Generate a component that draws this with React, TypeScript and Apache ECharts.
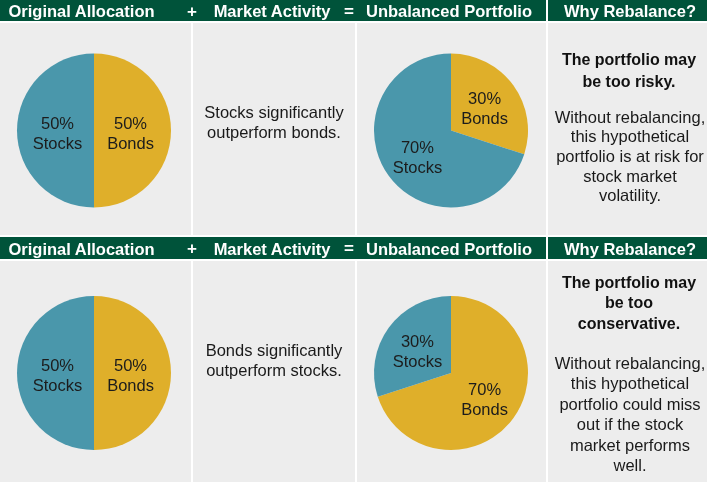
import React, { useEffect, useRef } from "react";
import * as echarts from "echarts";

// ---- data ----
const headerTitles = ["Original Allocation", "Market Activity", "Unbalanced Portfolio", "Why Rebalance?"];
const headerOperators = ["+", "="];
const assetNames = ["Bonds", "Stocks"];
const originalAllocation = [50, 50];
const unbalancedRow1 = [30, 70];
const unbalancedRow2 = [70, 30];
const marketActivity = ["Stocks significantly\noutperform bonds.", "Bonds significantly\noutperform stocks."];
const verdicts = ["The portfolio may\nbe too risky.", "The portfolio may\nbe too\nconservative."];
const explanations = [
  "Without rebalancing,\nthis hypothetical\nportfolio is at risk for\nstock market\nvolatility.",
  "Without rebalancing,\nthis hypothetical\nportfolio could miss\nout if the stock\nmarket performs\nwell.",
];

// ---- styling ----
const GREEN = "#00533A";
const GRAY = "#EDEDED";
const TEAL = "#4A97AB";
const GOLD = "#DFAF2A";
const FONT = '"Liberation Sans", Arial, Helvetica, sans-serif';

const cols = [
  [0, 191],
  [193, 355],
  [357, 546],
  [548, 707],
];
const rows = [
  { hy: 0, hh: 21, by: 23, bh: 212, pieY: 130.5, midY: 122, boldY: 70.5, boldLH: 22.5, expY: 156, expLH: 19.6 },
  { hy: 237, hh: 22, by: 261, bh: 221, pieY: 373, midY: 360, boldY: 302.5, boldLH: 20.5, expY: 414, expLH: 20.4 },
];
const headerTextX = [81.5, 272, 449, 630];
const operatorX = [192, 349];

export default function App() {
  const ref = useRef<HTMLDivElement>(null);
  useEffect(() => {
    if (!ref.current) return;
    const chart = echarts.init(ref.current, null, { renderer: "svg" });
    const graphics: any[] = [];
    graphics.push({ type: "rect", shape: { x: 0, y: 0, width: 707, height: 482 }, style: { fill: "#ffffff" }, z: -10 });
    rows.forEach((r, ri) => {
      graphics.push({ type: "rect", shape: { x: 0, y: r.hy, width: 546, height: r.hh }, style: { fill: GREEN }, z: -5 });
      graphics.push({ type: "rect", shape: { x: 548, y: r.hy, width: 159, height: r.hh }, style: { fill: GREEN }, z: -5 });
      cols.forEach((c) => {
        graphics.push({ type: "rect", shape: { x: c[0], y: r.by, width: c[1] - c[0], height: r.bh }, style: { fill: GRAY }, z: -5 });
      });
      headerTitles.forEach((t, i) => {
        graphics.push({
          type: "text", x: headerTextX[i], y: r.hy + r.hh / 2 + 0.5,
          style: { text: t, fill: "#ffffff", font: `bold 16.5px ${FONT}`, textAlign: "center", textVerticalAlign: "middle" },
        });
      });
      headerOperators.forEach((t, i) => {
        graphics.push({
          type: "text", x: operatorX[i], y: r.hy + r.hh / 2 + 0.5,
          style: { text: t, fill: "#ffffff", font: `bold 17px ${FONT}`, textAlign: "center", textVerticalAlign: "middle" },
        });
      });
      graphics.push({
        type: "text", x: 274, y: r.midY,
        style: { text: marketActivity[ri], fill: "#1a1a1a", font: `16.5px ${FONT}`, lineHeight: 20, textAlign: "center", textVerticalAlign: "middle" },
      });
      graphics.push({
        type: "text", x: 629, y: r.boldY,
        style: { text: verdicts[ri], fill: "#111111", font: `bold 16px ${FONT}`, lineHeight: r.boldLH, textAlign: "center", textVerticalAlign: "middle" },
      });
      graphics.push({
        type: "text", x: 630, y: r.expY,
        style: { text: explanations[ri], fill: "#1a1a1a", font: `16.5px ${FONT}`, lineHeight: r.expLH, textAlign: "center", textVerticalAlign: "middle" },
      });
    });

    const pies = [
      { values: originalAllocation, cx: 94, cy: rows[0].pieY },
      { values: unbalancedRow1, cx: 451, cy: rows[0].pieY },
      { values: originalAllocation, cx: 94, cy: rows[1].pieY },
      { values: unbalancedRow2, cx: 451, cy: rows[1].pieY },
    ];

    const makePie = (p: { values: number[]; cx: number; cy: number }) => ({
      type: "pie",
      center: [p.cx, p.cy],
      radius: 77,
      startAngle: 90,
      clockwise: true,
      silent: true,
      data: p.values.map((v, i) => ({ name: assetNames[i], value: v, itemStyle: { color: i === 0 ? GOLD : TEAL } })),
      label: {
        show: true,
        position: "inside",
        formatter: "{c}%\n{b}",
        fontFamily: FONT,
        fontSize: 16.5,
        lineHeight: 20,
        color: "#1c1c1c",
      },
      labelLine: { show: false },
      itemStyle: { borderWidth: 0 },
      labelLayout: (params: any) => {
        const rect = params.labelRect;
        const lx = rect.x + rect.width / 2;
        const ly = rect.y + rect.height / 2;
        const total = p.values.reduce((a, b) => a + b, 0);
        const share = p.values[params.dataIndex] / total;
        const k = share === 0.5 ? 0.88 : 1;
        return { dx: (lx - p.cx) * (k - 1), dy: (ly - p.cy) * (k - 1) + 2 };
      },
    });

    chart.setOption({
      animation: false,
      graphic: { elements: graphics },
      series: pies.map(makePie),
    });
    return () => chart.dispose();
  }, []);
  return <div ref={ref} style={{ position: "fixed", left: 0, top: 0, width: 707, height: 482 }} />;
}
